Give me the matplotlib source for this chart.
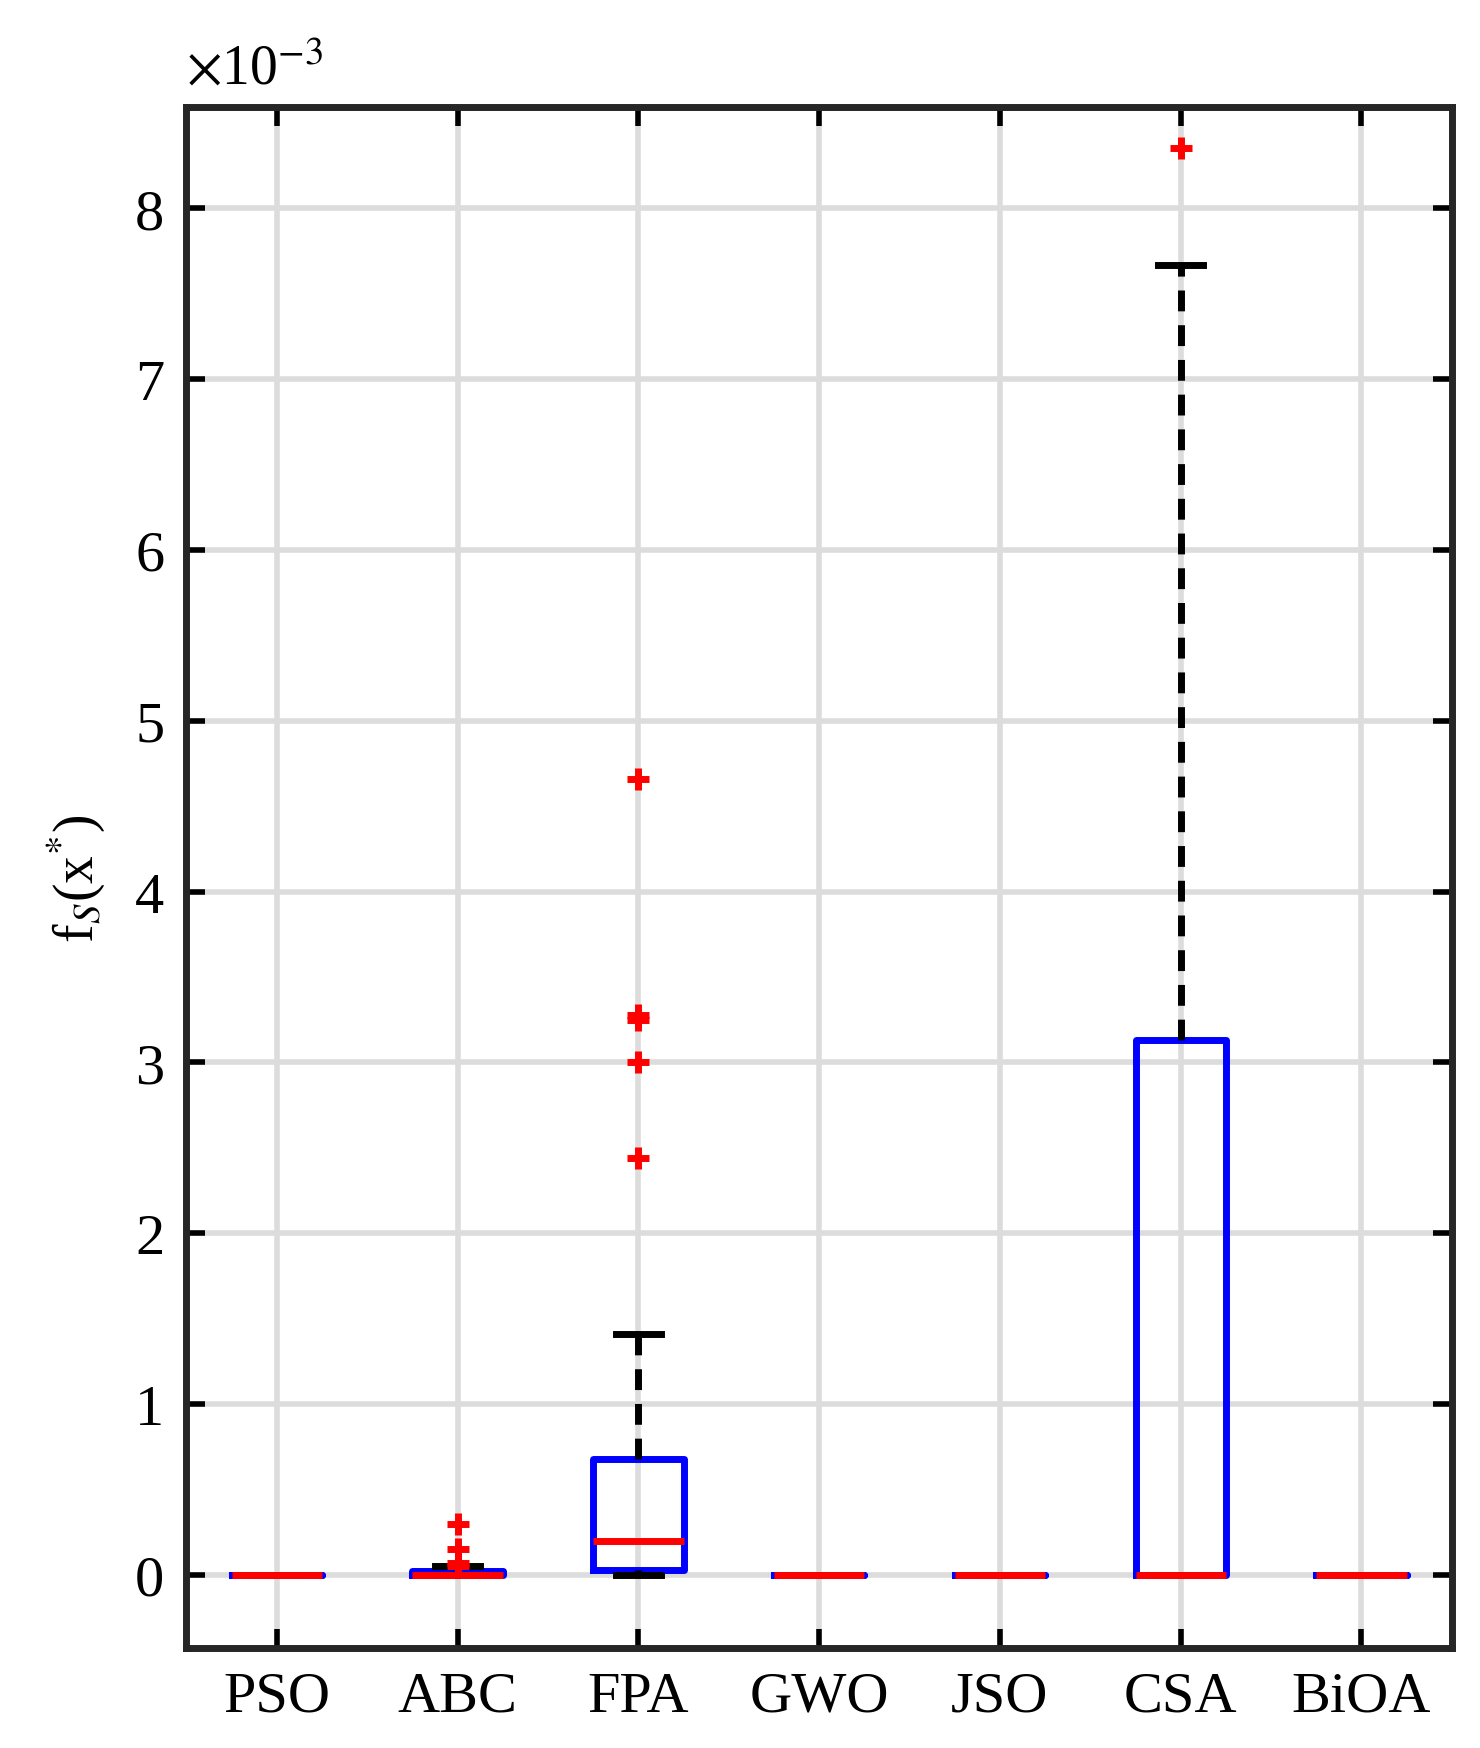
import numpy as np
import matplotlib.pyplot as plt

plt.rcParams['font.family'] = ['Liberation Serif', 'DejaVu Serif']
plt.rcParams['mathtext.fontset'] = 'stix'

# Algorithms and box statistics (values in units of 1e-3)
algos = ['PSO', 'ABC', 'FPA', 'GWO', 'JSO', 'CSA', 'BiOA']
q1 = [0, 0, 0.03, 0, 0, 0, 0]
med = [0, 0, 0.20, 0, 0, 0, 0]
q3 = [0, 0.02, 0.68, 0, 0, 3.13, 0]
wlo = [0, 0, 0, 0, 0, 0, 0]
whi = [0, 0.05, 1.41, 0, 0, 7.67, 0]
fliers = [[], [0.30, 0.15, 0.07, 0.05], [2.44, 3.00, 3.25, 3.28, 4.66], [], [], [8.35], []]

stats = []
for i, a in enumerate(algos):
    stats.append(dict(label=a, q1=q1[i], med=med[i], q3=q3[i],
                      whislo=wlo[i], whishi=whi[i], fliers=fliers[i]))

fig = plt.figure(figsize=(14.8, 17.49), dpi=100)
ax = fig.add_axes([0.126, 0.057, 0.855, 0.881])

ax.bxp(stats, widths=0.5, showfliers=True,
       boxprops=dict(color='blue', linewidth=5),
       medianprops=dict(color='red', linewidth=5),
       whiskerprops=dict(color='black', linewidth=5, linestyle=(0, (3, 2))),
       capprops=dict(color='black', linewidth=5),
       capwidths=0.25,
       flierprops=dict(marker='+', markeredgecolor='red', markersize=16, markeredgewidth=5))

ax.set_ylim(-0.43, 8.59)
ax.set_xlim(0.5, 7.5)
ax.set_yticks(range(0, 9))
ax.grid(True, color='#dcdcdc', linewidth=4)
ax.set_axisbelow(True)
ax.tick_params(direction='in', length=14, width=4, top=True, right=True, labelsize=42, pad=16)
for s in ax.spines.values():
    s.set_linewidth(5)
    s.set_color('#262626')
ax.set_ylabel(r'f$_S$(x$^{*}$)', fontsize=40, labelpad=20)
ax.text(0.0, 1.008, r'$\times$10$^{-3}$', transform=ax.transAxes, fontsize=40, va='bottom')

fig.savefig('out.png', dpi=100)
